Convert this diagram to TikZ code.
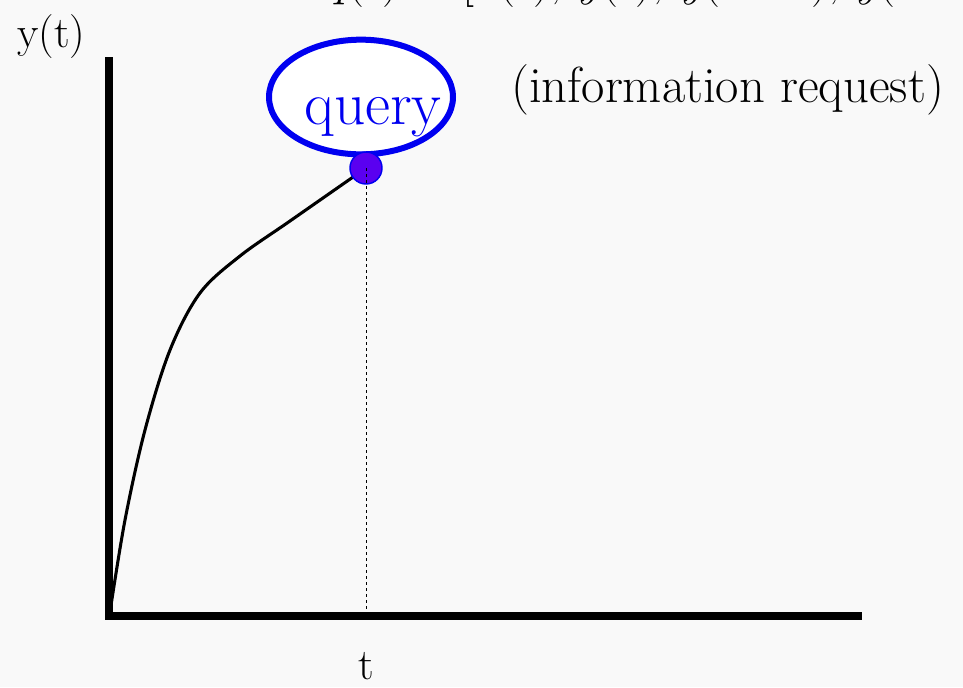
\documentclass[tikz,border=0pt]{standalone}
\usepackage{xcolor}
\usetikzlibrary{shapes.geometric}

\definecolor{bubbleblue}{RGB}{0,0,240}
\definecolor{dotfill}{RGB}{90,0,240}
\definecolor{paper}{RGB}{249,249,249}

\tikzset{
  axis/.style={line width=6.5pt, line join=miter},
  curve/.style={line width=2.3pt},
  guide/.style={line width=0.7pt, dash pattern=on 2.5pt off 2pt},
  bubble/.style={ellipse, draw=bubbleblue, line width=4.5pt, fill=white,
    minimum width=138pt, minimum height=86pt, inner sep=0pt},
  bubbletext/.style={anchor=base, text=bubbleblue, font=\fontsize{46}{52}\selectfont},
  qpoint/.style={circle, draw=bubbleblue, line width=1.1pt, fill=dotfill,
    minimum size=24pt, inner sep=0pt},
  lbl/.style={font=\fontsize{33}{40}\selectfont, inner sep=0pt},
  note/.style={font=\fontsize{38}{45}\selectfont, inner sep=0pt, anchor=base west},
}

\begin{document}
\begin{tikzpicture}[x=0.75pt, y=-0.75pt]
  \useasboundingbox (0,0) rectangle (963,687);
  \fill[paper] (0,0) rectangle (963,687);
  \clip (0,0) rectangle (963,687);

  % definition on top, cut off by the page edge
  \node[lbl, anchor=base west, font=\fontsize{36}{42}\selectfont] (qdef) at (324,-5)
    {\textit{q}(\textit{t}) = [\textit{x}(\textit{t}), \textit{y}(\textit{t}),
     \textit{y}(\textit{t} -- 1), \textit{y}(\textit{t} -- 2), \dots]};

  \coordinate (origin) at (109,616);
  \coordinate (ytop) at (109,57);
  \coordinate (xend) at (862,616);
  \draw[axis] (ytop) |- (xend);

  \node[lbl, anchor=base west] (ylabel) at (17,47) {y(t)};
  \node[lbl, anchor=base] (tlabel) at (366,679) {t};

  \draw[curve] plot[smooth, tension=0.55] coordinates {(110,612) (125,520) (145,430)
    (170,350) (200,293) (240,256) (290,221) (366,168)};

  \node[bubble] (query) at (361,97) {};
  \node[bubbletext] (qtext) at (373,124) {query};
  \node[note] (request) at (511,102) {(information request)};

  \node[qpoint] (now) at (366,168) {};
  \draw[guide] (now.center) -- (now.center |- origin);
\end{tikzpicture}
\end{document}
